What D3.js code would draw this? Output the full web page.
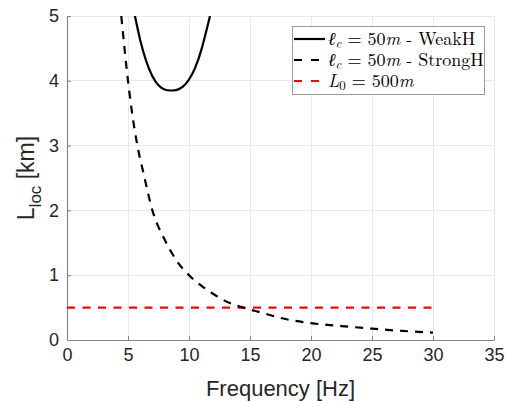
<!DOCTYPE html>
<html>
<head>
<meta charset="utf-8">
<script src="https://cdn.jsdelivr.net/npm/d3@7"></script>
<style>
  html, body { margin: 0; padding: 0; background: #fff; }
  svg { display: block; }
</style>
</head>
<body>
<svg id="chart" width="505" height="401"></svg>
<script>
// ---- data ----
const xTicks = [0, 5, 10, 15, 20, 25, 30, 35];
const yTicks = [0, 1, 2, 3, 4, 5];

const weakF = [5.57, 6.0, 6.5, 7.0, 7.5, 8.0, 8.5, 9.0, 9.5, 10.0, 10.5, 11.0, 11.5, 11.72];
const weakL = [5.0, 4.63, 4.30, 4.07, 3.93, 3.865, 3.85, 3.86, 3.91, 4.02, 4.2, 4.47, 4.83, 5.0];

const strongF = [4.45, 5.0, 5.3, 5.77, 6.3, 7.0, 8.0, 9.0, 10.0, 11.0, 12.0, 13.0, 14.45, 16.0, 17.5, 20.0, 22.5, 25.0, 27.5, 30.0];
const strongL = [5.0, 4.0, 3.55, 3.0, 2.55, 2.0, 1.55, 1.22, 1.0, 0.84, 0.71, 0.6, 0.5, 0.42, 0.34, 0.26, 0.215, 0.175, 0.14, 0.115];

const l0F = [0, 30];
const l0L = [0.5, 0.5];

// ---- layout ----
const svg = d3.select("#chart");
const L = 67, R = 494, T = 16, B = 340;
const x = d3.scaleLinear().domain([0, 35]).range([L, R]);
const y = d3.scaleLinear().domain([0, 5]).range([B, T]);

// grid
const grid = svg.append("g");
grid.selectAll("line.gx").data(xTicks).join("line")
  .attr("x1", d => x(d)).attr("x2", d => x(d)).attr("y1", T).attr("y2", B)
  .attr("stroke", "#e9e9e9").attr("stroke-width", 1).attr("shape-rendering", "crispEdges");
grid.selectAll("line.gy").data(yTicks).join("line")
  .attr("x1", L).attr("x2", R).attr("y1", d => y(d)).attr("y2", d => y(d))
  .attr("stroke", "#e9e9e9").attr("stroke-width", 1).attr("shape-rendering", "crispEdges");

// axes
const xAxis = d3.axisBottom(x).tickValues(xTicks).tickFormat(d3.format("d")).tickSizeInner(-4).tickSizeOuter(0).tickPadding(8);
const yAxis = d3.axisLeft(y).tickValues(yTicks).tickFormat(d3.format("d")).tickSizeInner(-4).tickSizeOuter(0).tickPadding(8);
const gx = svg.append("g").attr("transform", `translate(0,${B})`).call(xAxis);
const gy = svg.append("g").attr("transform", `translate(${L},0)`).call(yAxis);
[gx, gy].forEach(g => {
  g.select(".domain").attr("stroke", "#868686").attr("stroke-width", 1.2);
  g.selectAll(".tick line").attr("stroke", "#868686");
  g.selectAll(".tick text").attr("fill", "#262626")
    .style("font-family", "'Liberation Sans', Arial, Helvetica, sans-serif")
    .style("font-size", "18px");
});

// clip
svg.append("clipPath").attr("id", "clip").append("rect")
  .attr("x", L).attr("y", T).attr("width", R - L).attr("height", B - T);
const plot = svg.append("g").attr("clip-path", "url(#clip)");

const mkLine = curve => d3.line().x(d => x(d[0])).y(d => y(d[1])).curve(curve);

plot.append("path").datum(d3.zip(l0F, l0L))
  .attr("d", mkLine(d3.curveLinear)).attr("fill", "none").attr("stroke", "#ff0000")
  .attr("stroke-width", 2.2).attr("stroke-dasharray", "8,7.5");

plot.append("path").datum(d3.zip(strongF, strongL))
  .attr("d", mkLine(d3.curveMonotoneX))
  .attr("fill", "none").attr("stroke", "#000")
  .attr("stroke-width", 2.2).attr("stroke-dasharray", "8,7");

plot.append("path").datum(d3.zip(weakF, weakL))
  .attr("d", mkLine(d3.curveNatural))
  .attr("fill", "none").attr("stroke", "#000").attr("stroke-width", 2.2);

// axis labels
svg.append("text")
  .attr("x", (L + R) / 2).attr("y", 396)
  .attr("text-anchor", "middle").attr("fill", "#262626")
  .style("font-family", "'Liberation Sans', Arial, Helvetica, sans-serif")
  .style("font-size", "22px")
  .text("Frequency [Hz]");

const yl = svg.append("text")
  .attr("transform", "translate(34,178) rotate(-90)")
  .attr("text-anchor", "middle").attr("fill", "#262626")
  .style("font-family", "'Liberation Sans', Arial, Helvetica, sans-serif")
  .style("font-size", "23px");
yl.append("tspan").text("L");
yl.append("tspan").attr("dy", 7).style("font-size", "17px").text("loc");
yl.append("tspan").attr("dy", -7).text(" [km]");

// legend
const lg = svg.append("g");
lg.append("rect").attr("x", 292.5).attr("y", 26.5).attr("width", 192).attr("height", 68)
  .attr("fill", "#fff").attr("stroke", "#9a9a9a").attr("stroke-width", 1);

const legNames = ["WeakH", "StrongH", "L0"];
const legColors = ["#000", "#000", "#ff0000"];
const legDash = [null, "8,9", "8,9"];
const legY = [39, 60, 81];
const serif = "'Latin Modern Roman', 'Liberation Serif', 'DejaVu Serif', serif";

legNames.forEach((name, i) => {
  lg.append("line").attr("x1", 294).attr("x2", 325).attr("y1", legY[i]).attr("y2", legY[i])
    .attr("stroke", legColors[i]).attr("stroke-width", 2.2)
    .attr("stroke-dasharray", legDash[i]);
  const t = lg.append("text").attr("x", 328).attr("y", legY[i] + 6)
    .attr("fill", "#000").style("font-family", serif).style("font-size", "18px");
  if (i < 2) {
    t.append("tspan").style("font-style", "italic").text("\u2113");
    t.append("tspan").attr("dy", 3).style("font-style", "italic").style("font-size", "13px").text("c");
    t.append("tspan").attr("dy", -3).text(" = 50");
    t.append("tspan").style("font-style", "italic").text("m");
    t.append("tspan").text(" - " + name);
  } else {
    t.append("tspan").style("font-style", "italic").text("L");
    t.append("tspan").attr("dy", 3).style("font-size", "13px").text("0");
    t.append("tspan").attr("dy", -3).text(" = 500");
    t.append("tspan").style("font-style", "italic").text("m");
  }
});
</script>
</body>
</html>
